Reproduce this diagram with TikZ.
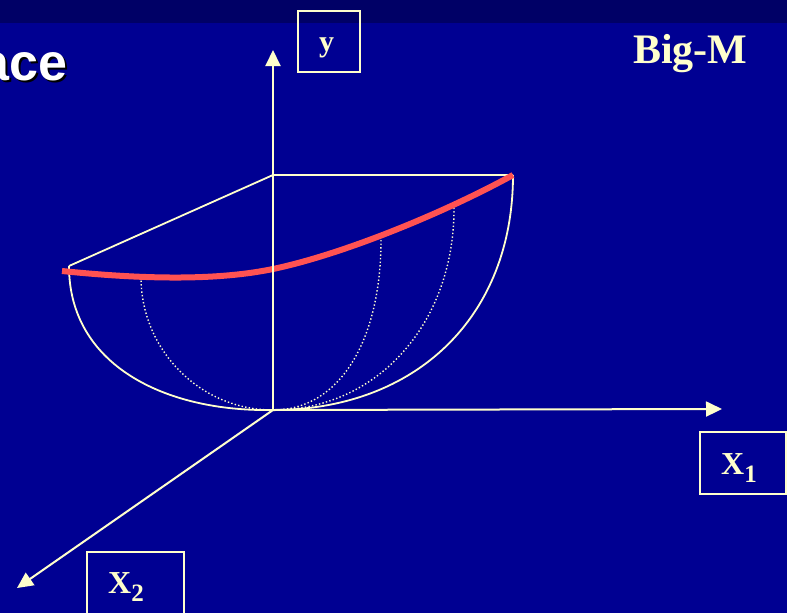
\documentclass[tikz,border=0pt]{standalone}
\usepackage{fontspec}
\setmainfont{Liberation Serif}
\newfontfamily\arialfont{Liberation Sans}
\usepackage{xcolor}
\usepackage{tikz}
\usetikzlibrary{arrows.meta}
\definecolor{SlideBlue}{RGB}{0,0,146}
\definecolor{SlideNavy}{RGB}{0,0,102}
\definecolor{SlideCream}{RGB}{255,255,204}
\definecolor{SlideRed}{RGB}{255,82,82}
\newcommand{\subidx}[1]{\raisebox{-8pt}{\fontsize{25}{25}\selectfont\bfseries #1}}

\begin{document}
\begin{tikzpicture}[
    x=1pt, y=-1pt,
    axisline/.style={draw=SlideCream, line width=2pt},
    axisarrow/.style={axisline, -{Triangle[length=16pt,width=15pt]}},
    bowlline/.style={draw=SlideCream, line width=1.8pt},
    meridian/.style={draw=SlideCream, line width=1.4pt, dash pattern=on 1.4pt off 2.2pt},
    pathcurve/.style={draw=SlideRed, line width=6pt},
    axisbox/.style={draw=SlideCream, line width=2pt, inner sep=0pt},
    axislabel/.style={text=SlideCream, font=\fontsize{32}{32}\selectfont\bfseries, inner sep=0pt, anchor=base west},
    titletext/.style={font=\arialfont\fontsize{52}{52}\selectfont\bfseries, inner sep=0pt, anchor=base west}
  ]
    \useasboundingbox (0,0) rectangle (787,613);
    \fill[SlideBlue] (0,0) rectangle (787,613);
    \fill[SlideNavy] (0,0) rectangle (787,23);
    % title and boxes
    \node[titletext, text=black] (titleshadow) at (-17.5,82.5) {ace};
    \node[titletext, text=white] (title) at (-20,80) {ace};
    \node[axislabel, font=\fontsize{42}{42}\selectfont\bfseries] (bigm) at (633,63) {Big-M};
    \node[axisbox, minimum width=62pt, minimum height=61pt] (ybox) at (329,41.5) {};
    \node[axisbox, minimum width=86pt, minimum height=62pt] (xonebox) at (743,463) {};
    \node[axisbox, minimum width=97pt, minimum height=70pt] (xtwobox) at (135.5,587) {};
    \node[axislabel, font=\fontsize{30}{30}\selectfont\bfseries] (ylabel) at (319,51) {y};
    \node[axislabel] (xonelabel) at (721,474) {X\subidx{1}};
    \node[axislabel] (xtwolabel) at (108,593) {X\subidx{2}};
    % bowl
    \coordinate (origin) at (273,410);
    \coordinate (top) at (273,175);
    \coordinate (rimright) at (513,175);
    \coordinate (rimleft) at (69,266);
    \draw[bowlline] (rimleft) -- (top) -- (rimright);
    \draw[bowlline] (rimright) .. controls (513,316) and (417,410) .. (origin);
    \draw[bowlline] (rimleft) .. controls (69,365) and (165,412) .. (origin);
    \foreach \sx/\sy/\ax/\ay/\bx/\by in {141/277/141/350/200/410, 381/240/381/340/340/410, 454/204/456/320/380/410}
      {\draw[meridian] (\sx,\sy) .. controls (\ax,\ay) and (\bx,\by) .. (origin);}
    \draw[pathcurve] (62,271) .. controls (150,280) and (220,280) .. (273,269)
      .. controls (340,255) and (440,215) .. (rimright);
    % axes
    \coordinate (ytip) at (273,50);
    \coordinate (xonetip) at (722,409);
    \coordinate (xtwotip) at (17,588);
    \draw[axisarrow] (origin) -- (ytip);
    \draw[axisarrow] (origin) -- (xonetip);
    \draw[axisarrow] (origin) -- (xtwotip);
  \end{tikzpicture}
\end{document}
